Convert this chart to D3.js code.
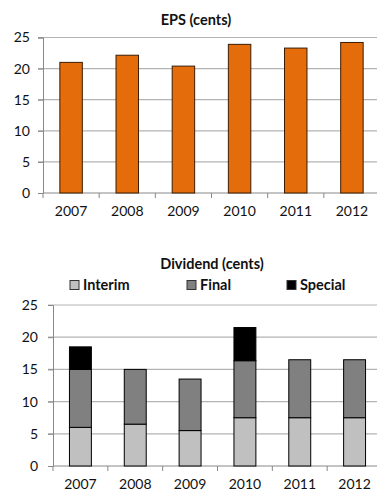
<!DOCTYPE html>
<html><head><meta charset="utf-8">
<script src="https://cdn.jsdelivr.net/npm/d3@7"></script>
<style>
html,body{margin:0;padding:0;background:#fff;}
svg{display:block;font-family:Lato, "Open Sans", sans-serif;}
</style></head>
<body>
<svg id="c" width="377" height="495"></svg>
<script>
const years = ["2007","2008","2009","2010","2011","2012"];
const eps = [21.0, 22.15, 20.4, 23.9, 23.3, 24.2];
const interim = [6, 6.5, 5.5, 7.5, 7.5, 7.5];
const finalDiv = [9, 8.5, 8, 8.85, 9, 9];
const special = [3.5, 0, 0, 5.15, 0, 0];
const yTicks = [0, 5, 10, 15, 20, 25];
const seriesNames = ["Interim", "Final", "Special"];
const seriesColors = ["#c0c0c0", "#808080", "#000000"];

const svg = d3.select("#c");

function frame(g, x, y, left, yPad) {
  g.selectAll(".grid").data(yTicks.filter(t => t > 0)).join("line")
    .attr("x1", left - 5).attr("x2", 377)
    .attr("y1", d => y(d)).attr("y2", d => y(d))
    .attr("stroke", "#b3b3b3").attr("stroke-width", 1.2);
  const ya = d3.axisLeft(y).tickValues(yTicks).tickSize(5).tickPadding(yPad);
  const yg = g.append("g").attr("transform", `translate(${left},0)`).call(ya);
  yg.select(".domain").attr("stroke", "#888");
  yg.selectAll(".tick line").attr("stroke", "#888");
  yg.selectAll("text").attr("font-size", 14).attr("fill", "#111").attr("font-family", "Lato");
  const xa = d3.axisBottom(x).tickSize(0).tickPadding(13);
  const xg = g.append("g").attr("transform", `translate(0,${y(0)})`).call(xa);
  xg.select(".domain").remove();
  xg.selectAll("text").attr("font-size", 14).attr("fill", "#111").attr("font-family", "Lato");
  g.append("line").attr("x1", left).attr("x2", 377).attr("y1", y(0)).attr("y2", y(0)).attr("stroke", "#888");
  const bounds = years.map(d => x(d) - (x.step() - x.bandwidth()) / 2);
  g.selectAll(".bt").data(bounds).join("line")
    .attr("x1", d => d).attr("x2", d => d)
    .attr("y1", y(0)).attr("y2", y(0) + 5).attr("stroke", "#888");
}

// ---- Top chart: EPS ----
{
  const left = 43, right = 380;
  const x = d3.scaleBand().domain(years).range([left, right]).paddingInner(0.6).paddingOuter(0.3);
  const y = d3.scaleLinear().domain([0, 25]).range([193, 37.5]);
  const g = svg.append("g");
  frame(g, x, y, left, 8);
  g.selectAll(".bar").data(eps).join("rect")
    .attr("x", (d, i) => x(years[i])).attr("width", x.bandwidth())
    .attr("y", d => y(d)).attr("height", d => y(0) - y(d))
    .attr("fill", "#E46C0A").attr("stroke", "#3a1d05").attr("stroke-width", 1);
  g.append("text").attr("x", 196).attr("y", 20).attr("dy", "0.35em")
    .attr("text-anchor", "middle").attr("font-weight", "bold").attr("font-size", 14.5)
    .attr("fill", "#111").text("EPS (cents)");
}

// ---- Bottom chart: Dividend ----
{
  const left = 53, right = 382;
  const x = d3.scaleBand().domain(years).range([left, right]).paddingInner(0.6).paddingOuter(0.3);
  const y = d3.scaleLinear().domain([0, 25]).range([466, 305]);
  const g = svg.append("g");
  frame(g, x, y, left, 10);
  const rows = years.map((yr, i) => ({year: yr, Interim: interim[i], Final: finalDiv[i], Special: special[i]}));
  const stack = d3.stack().keys(seriesNames)(rows);
  stack.forEach((s, si) => {
    g.append("g").selectAll("rect").data(s.filter(d => d[1] - d[0] > 0)).join("rect")
      .attr("x", d => x(d.data.year)).attr("width", x.bandwidth())
      .attr("y", d => y(d[1])).attr("height", d => y(d[0]) - y(d[1]))
      .attr("fill", seriesColors[si]).attr("stroke", "#000").attr("stroke-width", 1);
  });
  g.append("text").attr("x", 212).attr("y", 264).attr("dy", "0.35em")
    .attr("text-anchor", "middle").attr("font-weight", "bold").attr("font-size", 14.5)
    .attr("fill", "#111").text("Dividend (cents)");
  const legX = [70, 187, 287];
  const lg = g.selectAll(".leg").data(seriesNames).join("g")
    .attr("transform", (d, i) => `translate(${legX[i]},285)`);
  lg.append("rect").attr("x", 0).attr("y", -4.5).attr("width", 9).attr("height", 9)
    .attr("fill", (d, i) => seriesColors[i]).attr("stroke", "#333").attr("stroke-width", 1);
  lg.append("text").attr("x", 13).attr("y", 0).attr("dy", "0.35em")
    .attr("font-weight", "bold").attr("font-size", 14.5).attr("fill", "#111").text(d => d);
}
</script>
</body></html>
